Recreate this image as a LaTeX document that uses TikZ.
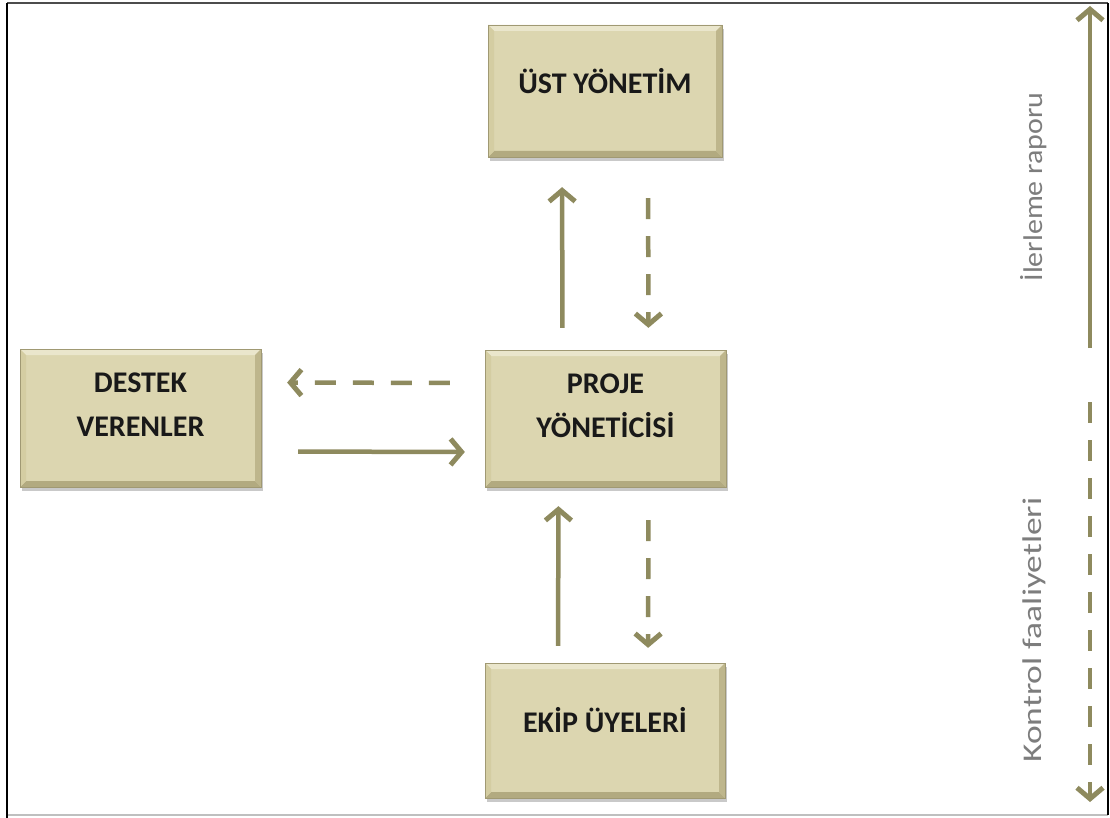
\documentclass[tikz,border=0pt]{standalone}
\usepackage{fontspec}
\setmainfont{Carlito}
\usetikzlibrary{arrows.meta,shadows}
\definecolor{boxfill}{RGB}{220,214,176}
\definecolor{bevtop}{RGB}{234,230,204}
\definecolor{bevleft}{RGB}{212,205,162}
\definecolor{bevright}{RGB}{190,182,140}
\definecolor{bevbot}{RGB}{178,170,128}
\definecolor{arrcol}{RGB}{142,138,94}
\definecolor{sidetext}{RGB}{125,125,125}
\tikzset{
  box/.style={minimum width=#1, minimum height=134pt, fill=boxfill, draw=bevbot!90!black, line width=0.3pt,
    drop shadow={shadow xshift=2pt, shadow yshift=-4pt, opacity=0.35, fill=black!60},
    path picture={
      \fill[bevtop] (path picture bounding box.north west) -- (path picture bounding box.north east)
        -- ([shift={(-6pt,-6pt)}]path picture bounding box.north east) -- ([shift={(6pt,-6pt)}]path picture bounding box.north west) -- cycle;
      \fill[bevbot] (path picture bounding box.south west) -- (path picture bounding box.south east)
        -- ([shift={(-6pt,6pt)}]path picture bounding box.south east) -- ([shift={(6pt,6pt)}]path picture bounding box.south west) -- cycle;
      \fill[bevleft] (path picture bounding box.north west) -- (path picture bounding box.south west)
        -- ([shift={(6pt,6pt)}]path picture bounding box.south west) -- ([shift={(6pt,-6pt)}]path picture bounding box.north west) -- cycle;
      \fill[bevright] (path picture bounding box.north east) -- (path picture bounding box.south east)
        -- ([shift={(-6pt,6pt)}]path picture bounding box.south east) -- ([shift={(-6pt,-6pt)}]path picture bounding box.north east) -- cycle;
    }},
  lbl/.style={font=\fontsize{30}{44}\selectfont\bfseries, text=black!90, align=center, yshift=10pt},
  arrtip/.style={-{Straight Barb[length=11pt,width=26pt,line width=5pt]}},
  sarrow/.style={arrtip, draw=arrcol, line width=4.5pt},
  darrow/.style={arrtip, draw=arrcol, line width=4.5pt, dash pattern=on 21pt off 17pt},
  side/.style={font=\fontsize{27}{32}\selectfont, text=sidetext, rotate=90}
}
\begin{document}
\begin{tikzpicture}[x=1pt,y=-1pt]
\useasboundingbox (0,0) rectangle (1110,818);
\fill[white] (0,0) rectangle (1110,818);
% frame
\draw[black!70, line width=2pt] (7,3) -- (1108,3);
\draw[black!25, line width=1.5pt] (7,815) -- (1108,815);
\draw[black, line width=2.5pt] (7,3) -- (7,818);
\draw[black, line width=1.2pt] (1108,3) -- (1108,815);

\node[box=234pt, minimum height=132pt] (ust) at (605,91) {};
\node[box=241pt, minimum height=138pt] (destek) at (140.5,418) {};
\node[box=241pt, minimum height=137pt] (proje) at (605.5,418.5) {};
\node[box=240pt, minimum height=135pt] (ekip) at (605,730.5) {};

\node[lbl] (tust) at (ust.center) {ÜST YÖNETİM};
\node[lbl, yshift=3pt] (tdestek) at (destek.center) {DESTEK\\VERENLER};
\node[lbl, yshift=3pt] (tproje) at (proje.center) {PROJE\\YÖNETİCİSİ};
\node[lbl] (tekip) at (ekip.center) {EKİP ÜYELERİ};

% connectors
\draw[sarrow, shorten <=22pt, shorten >=30pt] ([xshift=-43pt]proje.north) -- ([xshift=-43pt]ust.south);
\draw[darrow, shorten <=41pt, shorten >=22pt] ([xshift=43pt]ust.south) -- ([xshift=43pt]proje.north);
\draw[darrow, shorten <=35pt, shorten >=26pt] ([yshift=35.5pt]proje.west) -- ([yshift=35.5pt]destek.east);
\draw[sarrow, shorten <=37pt, shorten >=20pt] ([yshift=-33.5pt]destek.east) -- ([yshift=-33.5pt]proje.west);
\draw[sarrow, shorten <=17pt, shorten >=19pt] ([xshift=-47pt]ekip.north) -- ([xshift=-47pt]proje.south);
\draw[darrow, shorten <=33pt, shorten >=15pt] ([xshift=43pt]proje.south) -- ([xshift=43pt]ekip.north);

% side arrows
\coordinate (r1a) at (1090,348);
\coordinate (r1b) at (1090,6);
\coordinate (r2a) at (1090,402);
\coordinate (r2b) at (1090,802);
\draw[sarrow] (r1a) -- (r1b);
\draw[darrow] (r2a) -- (r2b);
\node[side] (t1) at (1034,187) {\resizebox{189pt}{\height}{İlerleme raporu}};
\node[side] (t2) at (1034,630) {\resizebox{265pt}{\height}{Kontrol faaliyetleri}};
\end{tikzpicture}
\end{document}
